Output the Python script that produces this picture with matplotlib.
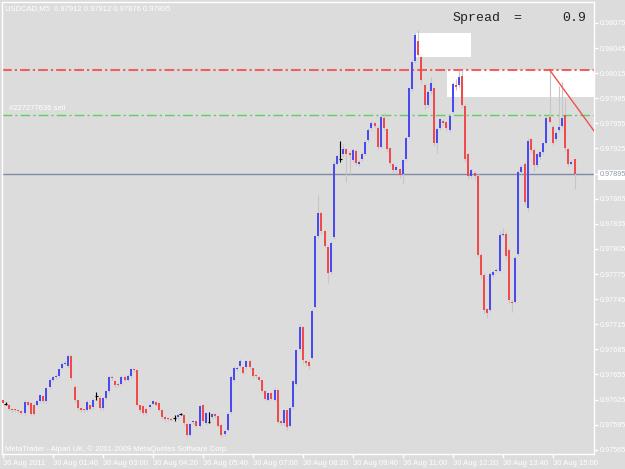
import matplotlib
matplotlib.use("Agg")
import matplotlib.pyplot as plt
from matplotlib.patches import Rectangle
import numpy as np

plt.rcParams['font.family'] = ['Liberation Sans', 'DejaVu Sans']
plt.rcParams['lines.scale_dashes'] = False

# ---------------- data ----------------
title_text = "USDCAD,M5  0.97912 0.97912 0.97876 0.97895"
watermark = "MetaTrader - Alpari UK, \u00a9 2001-2009 MetaQuotes Software Corp."

opens = [
 0.97624, 0.97620, 0.97618, 0.97614, 0.97613, 0.97612, 0.97611, 0.97609, 0.97622, 0.97621,
 0.97619, 0.97619, 0.97623, 0.97629, 0.97623, 0.97640, 0.97649, 0.97652, 0.97653, 0.97663,
 0.97668, 0.97665, 0.97677, 0.97640, 0.97624, 0.97615, 0.97613, 0.97613, 0.97618, 0.97616,
 0.97629, 0.97627, 0.97615, 0.97627, 0.97635, 0.97652, 0.97647, 0.97643, 0.97644, 0.97652,
 0.97649, 0.97653, 0.97661, 0.97660, 0.97618, 0.97617, 0.97614, 0.97616, 0.97620, 0.97622,
 0.97621, 0.97613, 0.97604, 0.97603, 0.97602, 0.97603, 0.97604, 0.97608, 0.97607, 0.97596,
 0.97583, 0.97598, 0.97599, 0.97594, 0.97619, 0.97597, 0.97598, 0.97604, 0.97608, 0.97605,
 0.97595, 0.97584, 0.97589, 0.97610, 0.97648, 0.97661, 0.97665, 0.97664, 0.97664, 0.97671,
 0.97663, 0.97654, 0.97652, 0.97648, 0.97635, 0.97625, 0.97633, 0.97625, 0.97637, 0.97599,
 0.97597, 0.97612, 0.97594, 0.97616, 0.97644, 0.97685, 0.97712, 0.97671, 0.97670, 0.97675,
 0.97736, 0.97820, 0.97848, 0.97826, 0.97807, 0.97778, 0.97819, 0.97907, 0.97912, 0.97919,
 0.97924, 0.97920, 0.97911, 0.97922, 0.97907, 0.97912, 0.97919, 0.97935, 0.97949, 0.97955,
 0.97950, 0.97927, 0.97962, 0.97948, 0.97925, 0.97907, 0.97899, 0.97901, 0.97895, 0.97912,
 0.97939, 0.97996, 0.98029, 0.98054, 0.98034, 0.98001, 0.97977, 0.97994, 0.97997, 0.97932,
 0.97949, 0.97958, 0.97957, 0.97947, 0.97968, 0.98001, 0.98001, 0.98012, 0.97976, 0.97919,
 0.97892, 0.97896, 0.97892, 0.97798, 0.97774, 0.97733, 0.97732, 0.97774, 0.97779, 0.97779,
 0.97822, 0.97823, 0.97804, 0.97742, 0.97742, 0.97799, 0.97897, 0.97907, 0.97854, 0.97936,
 0.97923, 0.97905, 0.97915, 0.97921, 0.97932, 0.97963, 0.97951, 0.97936, 0.97947, 0.97952,
 0.97965, 0.97924, 0.97907, 0.97912]

closes = [
 0.97621, 0.97620, 0.97614, 0.97612, 0.97612, 0.97611, 0.97609, 0.97622, 0.97619, 0.97608,
 0.97608, 0.97623, 0.97630, 0.97623, 0.97639, 0.97649, 0.97652, 0.97653, 0.97661, 0.97668,
 0.97669, 0.97677, 0.97651, 0.97624, 0.97615, 0.97612, 0.97612, 0.97622, 0.97614, 0.97625,
 0.97629, 0.97615, 0.97627, 0.97635, 0.97652, 0.97651, 0.97643, 0.97642, 0.97652, 0.97649,
 0.97653, 0.97661, 0.97660, 0.97619, 0.97612, 0.97609, 0.97609, 0.97619, 0.97623, 0.97619,
 0.97613, 0.97604, 0.97602, 0.97602, 0.97601, 0.97603, 0.97607, 0.97608, 0.97597, 0.97583,
 0.97596, 0.97599, 0.97594, 0.97617, 0.97599, 0.97609, 0.97598, 0.97608, 0.97605, 0.97594,
 0.97583, 0.97588, 0.97608, 0.97652, 0.97663, 0.97663, 0.97671, 0.97657, 0.97671, 0.97664,
 0.97653, 0.97653, 0.97649, 0.97635, 0.97626, 0.97633, 0.97626, 0.97637, 0.97598, 0.97597,
 0.97612, 0.97592, 0.97615, 0.97647, 0.97684, 0.97712, 0.97672, 0.97669, 0.97665, 0.97731,
 0.97820, 0.97848, 0.97827, 0.97809, 0.97776, 0.97812, 0.97907, 0.97916, 0.97912, 0.97924,
 0.97919, 0.97917, 0.97923, 0.97908, 0.97909, 0.97919, 0.97933, 0.97947, 0.97955, 0.97952,
 0.97927, 0.97963, 0.97949, 0.97924, 0.97908, 0.97899, 0.97903, 0.97893, 0.97911, 0.97938,
 0.97997, 0.98028, 0.98060, 0.98037, 0.98007, 0.97977, 0.97992, 0.98003, 0.97931, 0.97948,
 0.97960, 0.97956, 0.97949, 0.97964, 0.98002, 0.97998, 0.98010, 0.97977, 0.97912, 0.97892,
 0.97899, 0.97892, 0.97798, 0.97774, 0.97732, 0.97729, 0.97775, 0.97778, 0.97780, 0.97822,
 0.97823, 0.97796, 0.97744, 0.97740, 0.97794, 0.97897, 0.97903, 0.97861, 0.97934, 0.97923,
 0.97905, 0.97918, 0.97921, 0.97931, 0.97961, 0.97957, 0.97932, 0.97944, 0.97951, 0.97962,
 0.97925, 0.97907, 0.97909, 0.97895]

highs = [
 0.97626, 0.97622, 0.97620, 0.97615, 0.97614, 0.97613, 0.97612, 0.97624, 0.97623, 0.97622,
 0.97620, 0.97624, 0.97631, 0.97630, 0.97640, 0.97651, 0.97654, 0.97655, 0.97662, 0.97670,
 0.97671, 0.97679, 0.97678, 0.97642, 0.97626, 0.97616, 0.97614, 0.97624, 0.97619, 0.97627,
 0.97634, 0.97629, 0.97628, 0.97637, 0.97654, 0.97654, 0.97648, 0.97645, 0.97654, 0.97654,
 0.97655, 0.97663, 0.97663, 0.97661, 0.97619, 0.97618, 0.97615, 0.97620, 0.97624, 0.97623,
 0.97622, 0.97614, 0.97605, 0.97604, 0.97603, 0.97606, 0.97608, 0.97609, 0.97608, 0.97597,
 0.97597, 0.97600, 0.97600, 0.97619, 0.97620, 0.97610, 0.97610, 0.97609, 0.97609, 0.97606,
 0.97596, 0.97589, 0.97610, 0.97654, 0.97665, 0.97665, 0.97673, 0.97665, 0.97672, 0.97673,
 0.97664, 0.97655, 0.97653, 0.97649, 0.97636, 0.97634, 0.97634, 0.97639, 0.97638, 0.97600,
 0.97613, 0.97613, 0.97616, 0.97648, 0.97686, 0.97715, 0.97713, 0.97672, 0.97672, 0.97733,
 0.97822, 0.97870, 0.97850, 0.97828, 0.97809, 0.97815, 0.97910, 0.97918, 0.97934, 0.97930,
 0.97926, 0.97922, 0.97925, 0.97924, 0.97911, 0.97921, 0.97935, 0.97949, 0.97958, 0.97957,
 0.97952, 0.97966, 0.97967, 0.97950, 0.97927, 0.97908, 0.97905, 0.97902, 0.97913, 0.97940,
 0.97999, 0.98031, 0.98063, 0.98066, 0.98036, 0.98003, 0.97995, 0.98010, 0.97999, 0.97950,
 0.97962, 0.97960, 0.97958, 0.97966, 0.98004, 0.98008, 0.98019, 0.98019, 0.97978, 0.97920,
 0.97901, 0.97898, 0.97894, 0.97800, 0.97776, 0.97735, 0.97777, 0.97780, 0.97782, 0.97826,
 0.97830, 0.97827, 0.97806, 0.97744, 0.97796, 0.97899, 0.97905, 0.97909, 0.97937, 0.97938,
 0.97925, 0.97920, 0.97923, 0.97933, 0.97964, 0.98019, 0.97953, 0.97946, 0.98000, 0.98005,
 0.97985, 0.97926, 0.97911, 0.97912]

lows = [
 0.97619, 0.97618, 0.97612, 0.97610, 0.97610, 0.97609, 0.97606, 0.97607, 0.97617, 0.97606,
 0.97606, 0.97617, 0.97621, 0.97621, 0.97621, 0.97638, 0.97647, 0.97650, 0.97651, 0.97661,
 0.97666, 0.97663, 0.97649, 0.97622, 0.97613, 0.97610, 0.97610, 0.97611, 0.97612, 0.97614,
 0.97624, 0.97613, 0.97613, 0.97625, 0.97633, 0.97649, 0.97640, 0.97640, 0.97642, 0.97647,
 0.97647, 0.97651, 0.97658, 0.97617, 0.97610, 0.97607, 0.97607, 0.97614, 0.97618, 0.97617,
 0.97611, 0.97602, 0.97600, 0.97599, 0.97599, 0.97600, 0.97602, 0.97606, 0.97595, 0.97580,
 0.97581, 0.97596, 0.97592, 0.97592, 0.97597, 0.97595, 0.97597, 0.97602, 0.97603, 0.97592,
 0.97580, 0.97582, 0.97587, 0.97608, 0.97646, 0.97659, 0.97663, 0.97655, 0.97662, 0.97662,
 0.97651, 0.97651, 0.97647, 0.97633, 0.97624, 0.97623, 0.97624, 0.97623, 0.97596, 0.97595,
 0.97595, 0.97589, 0.97592, 0.97614, 0.97642, 0.97683, 0.97668, 0.97665, 0.97662, 0.97673,
 0.97734, 0.97818, 0.97823, 0.97806, 0.97764, 0.97775, 0.97817, 0.97905, 0.97909, 0.97915,
 0.97885, 0.97895, 0.97909, 0.97905, 0.97904, 0.97910, 0.97917, 0.97933, 0.97947, 0.97950,
 0.97924, 0.97925, 0.97947, 0.97921, 0.97905, 0.97896, 0.97897, 0.97890, 0.97882, 0.97910,
 0.97937, 0.97994, 0.98027, 0.98035, 0.98003, 0.97972, 0.97975, 0.97990, 0.97928, 0.97920,
 0.97947, 0.97953, 0.97946, 0.97945, 0.97966, 0.97995, 0.97999, 0.97975, 0.97909, 0.97889,
 0.97890, 0.97889, 0.97795, 0.97770, 0.97728, 0.97722, 0.97730, 0.97772, 0.97777, 0.97777,
 0.97820, 0.97793, 0.97740, 0.97730, 0.97740, 0.97797, 0.97895, 0.97857, 0.97850, 0.97920,
 0.97898, 0.97903, 0.97913, 0.97919, 0.97930, 0.97955, 0.97929, 0.97934, 0.97945, 0.97950,
 0.97922, 0.97904, 0.97905, 0.97876]

x_tick_bars = [0, 16, 32, 48, 64, 80, 96, 112, 128, 144, 160, 176]
x_tick_labels = ["30 Aug 2011", "30 Aug 01:40", "30 Aug 03:00", "30 Aug 04:20",
                 "30 Aug 05:40", "30 Aug 07:00", "30 Aug 08:20", "30 Aug 09:40",
                 "30 Aug 11:00", "30 Aug 12:20", "30 Aug 13:40", "30 Aug 15:00"]
y_tick_labels = ["0.97565", "0.97595", "0.97625", "0.97655", "0.97685", "0.97715",
                 "0.97745", "0.97775", "0.97805", "0.97835", "0.97865", "0.97895",
                 "0.97925", "0.97955", "0.97985", "0.98015", "0.98045", "0.98075"]
y_ticks = [float(s) for s in y_tick_labels]

bid_price = 0.97895
stop_level = 0.98019
order_level = 0.97965
order_label = "#227277636 sell"
# chart objects: (bar_from, bar_to, price_low, price_high)
rect_a = (132.2, 150.0, 0.98034, 0.98063)
rect_b = (142.1, 200.0, 0.97987, 0.98019)
trend_bars = [175.0, 190.0]
trend_prices = [0.98019, 0.97942]
spread_label = "Spread"
spread_value = "0.9"

# ---------------- figure ----------------
W, H = 625, 469
BG = '#dcdcdc'
fig = plt.figure(figsize=(W / 100, H / 100), dpi=100, facecolor=BG)
ax = fig.add_axes([2 / W, 15 / H, 592 / W, 452 / H], facecolor=BG)

o = np.array(opens); c = np.array(closes); hi = np.array(highs); lo = np.array(lows)
idx = np.arange(len(o))
up = c > o
dn = c < o
dj = c == o

# objects behind candles
for (x0, x1, p0, p1) in (rect_a, rect_b):
    ax.add_patch(Rectangle((x0, p0), x1 - x0, p1 - p0, facecolor='white',
                           edgecolor='none', zorder=1))

ax.axhline(stop_level, color='#ee6060', lw=1.5, dashes=(7, 2.2, 1.6, 2.2), zorder=1.5)
ax.axhline(order_level, color='#5fcf5f', lw=1.0, dashes=(7, 2.2, 1.6, 2.2), zorder=1.5)
ax.axhline(bid_price, color='#7f8aa6', lw=1.0, zorder=1.5)
ax.plot(trend_bars, trend_prices, color='#f05050', lw=1.0, zorder=4)

blue = '#4a4af2'
red = '#f04a4a'
minb = 0.000012
ax.vlines(idx[~dj], lo[~dj], hi[~dj], color='#c6c6c6', lw=0.8, zorder=2)
ax.bar(idx[up], np.maximum(c - o, minb)[up], bottom=o[up], width=0.62,
       color=blue, linewidth=0, zorder=3)
ax.bar(idx[dn], np.maximum(o - c, minb)[dn], bottom=c[dn], width=0.62,
       color=red, linewidth=0, zorder=3)
ax.vlines(idx[dj], lo[dj], hi[dj], color='black', lw=0.8, zorder=3)
ax.hlines(o[dj], idx[dj] - 0.45, idx[dj] + 0.45, color='black', lw=0.8, zorder=3)

ax.set_xlim(-0.224, 189.22)
ax.set_ylim(0.97560, 0.98100)

for s in ax.spines.values():
    s.set_color('white')
    s.set_linewidth(1.0)

ax.set_xticks(x_tick_bars)
ax.set_xticklabels(x_tick_labels)
for t in ax.get_xticklabels():
    t.set_ha('left')
ax.tick_params(axis='x', direction='out', length=3, width=1, color='white',
               labelcolor='white', labelsize=5.5, pad=1.5)
ax.yaxis.tick_right()
ax.set_yticks(y_ticks)
ax.set_yticklabels(y_tick_labels)
ax.tick_params(axis='y', direction='out', length=3, width=1, color='white',
               labelcolor='white', labelsize=5.2, pad=1.0)

# the bid price tick label is shown boxed, as in the terminal
for t, v in zip(ax.get_yticklabels(), y_ticks):
    if abs(v - bid_price) < 1e-9:
        t.set_color('#8f98b0')
        t.set_bbox(dict(boxstyle='square,pad=0.2', facecolor='white', edgecolor='none'))

# texts
def px(x, y):
    return x / W, 1 - y / H

fig.text(*px(5, 10), title_text, fontsize=5.5, color='white', ha='left', va='baseline')
fig.text(*px(5, 451), watermark, fontsize=5.5, color='white', ha='left', va='baseline')
ax.text(2.0, order_level + 0.00003, order_label, fontsize=5.5, color='white',
        ha='left', va='bottom', zorder=5)

mono = ['Liberation Mono', 'DejaVu Sans Mono']
fig.text(*px(453, 21), spread_label, fontsize=9.5, family=mono, color='#222222',
         ha='left', va='baseline')
fig.text(*px(517, 21), "=", fontsize=9.5, family=mono, color='#222222',
         ha='center', va='baseline')
fig.text(*px(586, 21), spread_value, fontsize=9.5, family=mono, color='#222222',
         ha='right', va='baseline')

fig.savefig('out.png', dpi=100, facecolor=BG)
